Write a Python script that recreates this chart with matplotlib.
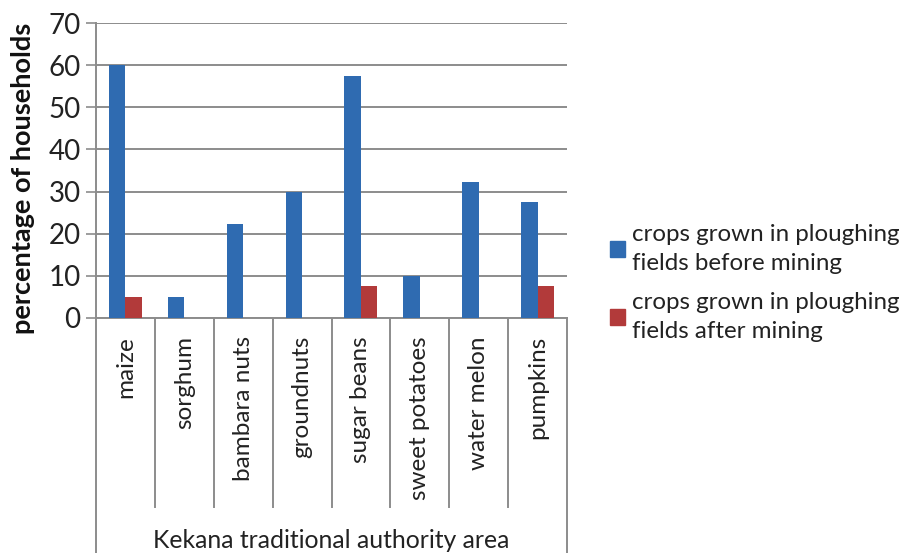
import matplotlib
matplotlib.use("Agg")
import matplotlib.pyplot as plt
import numpy as np
from matplotlib.lines import Line2D
from matplotlib.patches import Patch

categories = ["maize", "sorghum", "bambara nuts", "groundnuts", "sugar beans",
              "sweet potatoes", "water melon", "pumpkins"]
before_mining = [60, 5, 22.3, 30, 57.5, 10, 32.3, 27.5]
after_mining = [5, 0, 0, 0, 7.5, 0, 0, 7.5]
series_names = ["crops grown in ploughing\nfields before mining",
                "crops grown in ploughing\nfields after mining"]
y_ticks = [0, 10, 20, 30, 40, 50, 60, 70]
x_title = "Kekana traditional authority area"
y_title = "percentage of households"

blue = "#2F6BB1"
red = "#B23A3A"
grid_c = "#8C8C8C"

plt.rcParams['font.family'] = ['Lato', 'DejaVu Sans']

W, H = 906, 553
fig = plt.figure(figsize=(W / 100, H / 100), dpi=100)
ax_l, ax_r, ax_b, ax_t = 96, 567, 235, 530
ax = fig.add_axes([ax_l / W, ax_b / H, (ax_r - ax_l) / W, (ax_t - ax_b) / H])

x = np.arange(len(categories))
bw = 0.28
ax.bar(x - bw / 2, before_mining, width=bw, color=blue, zorder=3)
ax.bar(x + bw / 2, after_mining, width=bw, color=red, zorder=3)

ax.set_xlim(-0.5, len(categories) - 0.5)
ax.set_ylim(0, 70)
ax.set_yticks(y_ticks)
ax.yaxis.grid(True, color=grid_c, linewidth=1.4, zorder=0)
ax.set_axisbelow(True)
for s in ["top", "right"]:
    ax.spines[s].set_visible(False)
for s in ["left", "bottom"]:
    ax.spines[s].set_color(grid_c)
    ax.spines[s].set_linewidth(1.4)
ax.tick_params(axis='y', length=7, width=1.2, color=grid_c, labelsize=20,
               labelcolor="#222222", pad=4)
ax.set_xticks(x)
ax.set_xticklabels(categories, rotation=90, va='top', ha='center', fontsize=17.5,
                   color="#222222")
ax.tick_params(axis='x', length=0, pad=13)
ax.set_ylabel(y_title, fontsize=19.5, fontweight='bold', color="#111111")
ax.yaxis.set_label_coords(-(96 - 35) / (ax_r - ax_l), (553 - 178 - ax_b) / (ax_t - ax_b))

# category separator lines and outer frame below the axis
trans = ax.get_xaxis_transform()
sep_bottom = (46 - ax_b) / (ax_t - ax_b)
outer_bottom = (0 - ax_b) / (ax_t - ax_b)
for b in np.arange(0.5, len(categories) - 1, 1.0):
    ax.add_line(Line2D([b, b], [0, sep_bottom], transform=trans, color=grid_c,
                       linewidth=1.4, clip_on=False))
for b in [-0.5, len(categories) - 0.5]:
    ax.add_line(Line2D([b, b], [0, outer_bottom], transform=trans, color=grid_c,
                       linewidth=1.4, clip_on=False))

ax.text((len(categories) - 1) / 2, (553 - 540 - ax_b) / (ax_t - ax_b), x_title,
        transform=trans, ha='center', va='center', fontsize=17.8, color="#222222")

handles = [Patch(color=blue), Patch(color=red)]
leg = fig.legend(handles, series_names, loc='center left',
                 bbox_to_anchor=(588 / W, 1 - 283 / H), frameon=False, fontsize=17.4,
                 handlelength=0.65, handleheight=0.65, handletextpad=0.25,
                 labelspacing=0.75, labelcolor="#222222")
for t in leg.get_texts():
    t.set_linespacing(1.45)

fig.savefig("out.png", dpi=100)
